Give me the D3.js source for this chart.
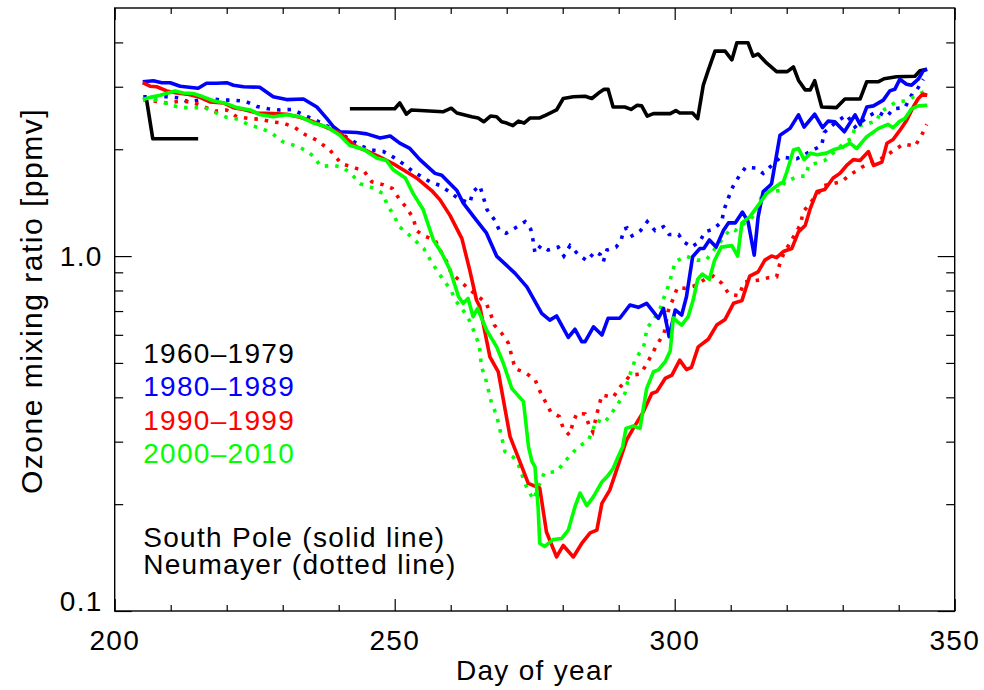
<!DOCTYPE html>
<html>
<head>
<meta charset="utf-8">
<script src="https://cdn.jsdelivr.net/npm/d3@7"></script>
<style>
  html, body { margin: 0; padding: 0; background: #fff; }
  svg { display: block; font-family: 'Liberation Sans', Arial, Helvetica, sans-serif; }
</style>
</head>
<body>
<div id="chart"></div>
<script>
// day of year, ozone mixing ratio [ppmv]; null breaks a line
const southPole1960 = [[205.7, 2.75], [206.8, 2.14], [214.9, 2.14], null,
  [242, 2.60], [250, 2.60], [250.9, 2.70], [252.1, 2.51], [253, 2.58], [258.6, 2.55], [260.1, 2.61], [261.1, 2.53],
  [263.75, 2.47], [264.9, 2.45], [265.9, 2.39], [267.1, 2.48], [268.2, 2.47], [269.1, 2.39], [270, 2.37], [271.1, 2.33],
  [272.1, 2.40], [273.1, 2.37], [274.2, 2.45], [275.9, 2.45], [277.1, 2.50], [278.9, 2.58], [280.1, 2.78], [281.9, 2.81],
  [284, 2.82], [285.2, 2.78], [286.4, 2.88], [287.4, 2.95], [288.1, 2.95], [289, 2.63], [291.1, 2.63], [292.2, 2.59],
  [293.3, 2.66], [294.1, 2.65], [295.1, 2.48], [296.2, 2.52], [299.2, 2.52], [300.2, 2.57], [300.9, 2.53], [303.2, 2.53],
  [304.1, 2.44], [305.1, 3.03], [306, 3.34], [307.2, 3.78], [309, 3.78], [310.2, 3.57], [311.1, 3.99], [313.1, 3.99],
  [314, 3.66], [314.9, 3.71], [316.4, 3.50], [318.2, 3.31], [320.1, 3.31], [321.2, 3.41], [322.1, 3.13], [323.3, 2.94],
  [324.2, 2.94], [325, 3.12], [326.25, 2.63], [328.9, 2.62], [330.4, 2.77], [333.1, 2.77], [334.3, 3.10], [336.4, 3.10],
  [337.4, 3.16], [339.6, 3.20], [342.9, 3.21], [343.8, 3.33], [345, 3.36]]

const southPole1980 = [[205, 3.10], [206.9, 3.12], [208.4, 3.08], [209.9, 3.08], [211.7, 3.01], [214.9, 2.97], [216.4, 3.07],
  [218.2, 3.07], [220, 3.08], [221.2, 3.03], [223, 3.00], [225.9, 2.99], [228.3, 2.81], [230.7, 2.76], [233.7, 2.77],
  [236.1, 2.63], [237.9, 2.44], [239, 2.32], [240.2, 2.24], [243.2, 2.23], [245, 2.21], [247.4, 2.15], [249.2, 2.18],
  [250.9, 2.08], [252.7, 2.01], [254.5, 1.87], [257.2, 1.71], [258.4, 1.69], [261.1, 1.53], [262.25, 1.41], [264.3, 1.28],
  [266.4, 1.16], [268.2, 1.00], [271.5, 0.894], [273.6, 0.819], [274.75, 0.760], [276.25, 0.690], [277.7, 0.660],
  [278.9, 0.678], [281, 0.590], [282.2, 0.622], [283.4, 0.574], [284, 0.574], [285.5, 0.632], [287, 0.599], [288.1, 0.668],
  [290.2, 0.668], [292, 0.728], [293.5, 0.717], [295, 0.736], [297.1, 0.668], [298, 0.712], [299, 0.593], [300.1, 0.705],
  [301.25, 0.682], [302.1, 0.768], [303.2, 0.996], [304.5, 1.05], [305.2, 1.05], [306.2, 1.11], [307.4, 1.06],
  [308.7, 1.18], [309.6, 1.24], [310.8, 1.24], [312.1, 1.33], [313.1, 1.25], [314.2, 1.006], [314.9, 1.29], [315.8, 1.52],
  [317, 1.58], [317.3, 1.60], [318.8, 2.19], [320.6, 2.29], [322.1, 2.50], [323.1, 2.31], [325, 2.51], [326.4, 2.30],
  [327.4, 2.40], [328.6, 2.39], [330.3, 2.24], [332.2, 2.50], [333.1, 2.35], [334.3, 2.63], [335.5, 2.65], [337.25, 2.75],
  [338.4, 2.92], [339.3, 2.95], [340.2, 3.15], [341.4, 3.05], [342.3, 3.03], [343.5, 3.15], [344.4, 3.33], [345.1, 3.36]]

const southPole1990 = [[205, 3.08], [206.3, 3.01], [207.5, 3.00], [209.3, 2.92], [211.1, 2.88], [212.9, 2.86], [215.2, 2.80],
  [217, 2.72], [219.4, 2.70], [221.2, 2.62], [223, 2.59], [225.4, 2.53], [228.3, 2.52], [230.7, 2.51], [233.1, 2.46],
  [235.5, 2.39], [237.9, 2.30], [240.2, 2.22], [243.2, 2.03], [245, 1.98], [247.4, 1.90], [249.75, 1.82], [251.5, 1.75],
  [253.9, 1.66], [256.6, 1.53], [258.1, 1.44], [259.9, 1.30], [262, 1.12], [263.4, 0.913], [264.6, 0.752], [265.2, 0.720],
  [267, 0.520], [268.5, 0.472], [270.6, 0.310], [272.7, 0.255], [273.85, 0.229], [275.9, 0.222], [277.1, 0.167],
  [278.9, 0.142], [280.1, 0.153], [281.9, 0.142], [283.4, 0.155], [284.9, 0.166], [286.1, 0.169], [287, 0.201],
  [288.4, 0.219], [289.6, 0.249], [291.4, 0.303], [292.6, 0.327], [294.4, 0.364], [295.9, 0.410], [296.8, 0.415],
  [298.3, 0.452], [299.5, 0.462], [300.9, 0.509], [302.1, 0.479], [303, 0.486], [304.2, 0.555], [306, 0.583],
  [307.5, 0.639], [309, 0.663], [310.5, 0.736], [312, 0.749], [313.4, 0.878], [314.9, 0.903], [316.1, 0.974], [317.3, 1.00],
  [318.2, 0.99], [319.4, 1.03], [320.9, 1.05], [322.1, 1.17], [323.3, 1.22], [324.2, 1.36], [325.4, 1.52], [326.8, 1.54],
  [328.3, 1.66], [329.5, 1.71], [330.7, 1.80], [331.9, 1.87], [333.1, 1.86], [334.6, 1.97], [335.5, 1.80], [337, 1.84],
  [337.9, 2.08], [339, 2.13], [340.2, 2.26], [341.4, 2.41], [342.6, 2.63], [343.5, 2.78], [344.3, 2.86], [345.1, 2.84]]

const southPole2000 = [[205, 2.76], [206.3, 2.80], [208.1, 2.84], [210.8, 2.92], [212.25, 2.88], [214, 2.87], [215.8, 2.81],
  [217.6, 2.74], [220, 2.69], [221.8, 2.62], [224.2, 2.58], [226, 2.50], [228.3, 2.47], [230.7, 2.50], [233.1, 2.47],
  [235.5, 2.37], [237.9, 2.31], [240.2, 2.19], [242, 2.05], [244.4, 2.00], [246.8, 1.89], [248.5, 1.86], [249.75, 1.75],
  [251.9, 1.66], [253.3, 1.50], [255.1, 1.35], [256.9, 1.11], [258.4, 1.02], [259.9, 0.913], [261.4, 0.768],
  [262.25, 0.736], [263.1, 0.760], [264, 0.675], [264.8, 0.712], [266.4, 0.619], [268.2, 0.555], [269.4, 0.499],
  [270.9, 0.424], [273, 0.389], [273.9, 0.290], [274.5, 0.264], [275.05, 0.255], [275.6, 0.197], [275.9, 0.155],
  [276.8, 0.152], [278.3, 0.159], [279.8, 0.160], [281, 0.169], [282.2, 0.197], [283.1, 0.215], [284.3, 0.198],
  [285.5, 0.210], [287, 0.231], [288.1, 0.241], [289, 0.252], [289.9, 0.272], [290.7, 0.290], [291.3, 0.327],
  [292.6, 0.332], [293.8, 0.327], [295, 0.424], [296.2, 0.472], [297.1, 0.478], [298.3, 0.504], [299.2, 0.540],
  [299.75, 0.670], [300.4, 0.655], [301.25, 0.639], [302.4, 0.675], [303.3, 0.752], [304.1, 0.86], [304.9, 0.89],
  [306.2, 0.86], [307.1, 0.97], [308.3, 1.06], [310.2, 1.07], [311.25, 1.00], [312, 1.24], [313.4, 1.29], [315.2, 1.41],
  [316.4, 1.50], [317.6, 1.55], [318.8, 1.60], [319.4, 1.62], [320, 1.72], [321.2, 1.99], [322.1, 2.01], [323.1, 1.87],
  [324.3, 1.95], [325.4, 1.93], [327.1, 1.95], [328.6, 2.00], [330.1, 2.03], [331.3, 2.08], [332.5, 2.01], [334.3, 2.17],
  [336.4, 2.29], [338.1, 2.35], [339, 2.30], [340.2, 2.40], [341.1, 2.44], [342.3, 2.60], [343.5, 2.65], [345.1, 2.66]]

const neumayer1980 = [[205.1, 2.81], [209.5, 2.81], [211.6, 2.79], [213.1, 2.72], [217, 2.78], [219.1, 2.75], [221.2, 2.75],
  [223.3, 2.73], [225.4, 2.64], [227.4, 2.60], [229.5, 2.58], [231.6, 2.59], [237, 2.37], [242.3, 2.12], [244.1, 2.04],
  [245.9, 1.99], [248, 1.97], [249.75, 1.90], [251.5, 1.82], [253.3, 1.73], [256.3, 1.62], [258.1, 1.58], [259.7, 1.52],
  [261.4, 1.45], [263.4, 1.41], [264, 1.52], [265.2, 1.58], [266.5, 1.35], [267.9, 1.26], [268.7, 1.18], [269.9, 1.16],
  [271.5, 1.20], [273.3, 1.25], [274.3, 1.19], [274.75, 1.10], [275.05, 1.02], [276.1, 1.07], [277.4, 1.04], [279.2, 1.06],
  [280.2, 1.00], [281.3, 1.07], [282.8, 1.01], [284.3, 0.97], [285.8, 1.03], [286.7, 1.01], [287.25, 0.964], [287.9, 1.04],
  [289.5, 1.06], [290.4, 1.10], [290.9, 1.19], [291.5, 1.20], [292.4, 1.14], [293.9, 1.18], [295.1, 1.25], [296.5, 1.18],
  [298, 1.21], [299, 1.15], [300.7, 1.15], [301.5, 1.10], [303, 1.06], [304.5, 1.10], [305.4, 1.17], [306.9, 1.19],
  [308.4, 1.25], [308.8, 1.35], [309.6, 1.46], [310.4, 1.57], [311.5, 1.68], [312.7, 1.78], [314.5, 1.77], [315.8, 1.71],
  [317.3, 1.80], [318.9, 1.90], [321.8, 1.88], [326.25, 2.05], [326.7, 2.23], [328.9, 2.39], [330.7, 2.50], [332.2, 2.31],
  [334.6, 2.48], [336.1, 2.55], [337.9, 2.47], [339, 2.60], [341.1, 2.62], [342.6, 2.90], [343.3, 2.95], [344.4, 3.15]]

const neumayer1990 = [[205.1, 2.76], [209.3, 2.70], [211.7, 2.73], [213.75, 2.72], [217.9, 2.56], [220, 2.58], [221.8, 2.47],
  [224.2, 2.44], [225.9, 2.43], [228, 2.39], [230.1, 2.37], [232.2, 2.30], [234, 2.20], [236.1, 2.12], [238.4, 1.99],
  [240.5, 1.82], [242.6, 1.78], [244.6, 1.73], [245.9, 1.62], [247.9, 1.59], [249.6, 1.55], [250.8, 1.45], [252.1, 1.37],
  [253.3, 1.28], [253.9, 1.18], [255.2, 1.14], [257.2, 1.11], [258.1, 1.04], [259.3, 0.963], [260.05, 0.897],
  [261.5, 0.856], [263.1, 0.811], [266.3, 0.739], [267.1, 0.690], [267.8, 0.639], [269.1, 0.606], [270.3, 0.568],
  [271.5, 0.482], [273.3, 0.469], [275.05, 0.449], [275.9, 0.417], [277.85, 0.364], [279.4, 0.353], [280.1, 0.327],
  [281.2, 0.313], [281.8, 0.337], [282.5, 0.360], [284, 0.359], [284.75, 0.332], [285.35, 0.320], [286.4, 0.375],
  [287, 0.406], [289, 0.400], [290.2, 0.427], [292.1, 0.462], [293.8, 0.465], [294.8, 0.49], [296.8, 0.561],
  [298.1, 0.606], [298.85, 0.701], [299.75, 0.76], [300.5, 0.816], [301.8, 0.811], [303.4, 0.823], [305.4, 0.86],
  [306.9, 0.878], [308.4, 0.838], [309.7, 0.781], [311.5, 0.773], [312.4, 0.846], [315.2, 0.856], [316.7, 0.869],
  [318.2, 0.874], [318.7, 0.943], [319.4, 1.01], [322.5, 1.23], [322.9, 1.33], [326.7, 1.58], [329.8, 1.62], [331, 1.68],
  [333.4, 1.78], [334.3, 1.81], [337.4, 1.90], [339, 1.98], [340.9, 2.07], [342.9, 2.04], [344.1, 2.19], [345, 2.35]]

const neumayer2000 = [[205.1, 2.75], [207.5, 2.75], [209.6, 2.68], [211.7, 2.62], [213.9, 2.62], [216, 2.62], [217.9, 2.54],
  [220, 2.46], [222.1, 2.43], [224, 2.34], [226.25, 2.29], [228.2, 2.21], [230, 2.10], [232.1, 2.05], [234, 1.99],
  [235.5, 1.91], [236.8, 1.79], [239.2, 1.80], [240.7, 1.78], [242.3, 1.70], [243.8, 1.60], [245.9, 1.56], [247.9, 1.50],
  [248.7, 1.39], [249.9, 1.30], [250.8, 1.21], [252.25, 1.16], [253.8, 1.10], [255.2, 1.05], [256.3, 0.979],
  [257.5, 0.913], [258.7, 0.856], [260.05, 0.802], [260.8, 0.752], [262.1, 0.708], [263.3, 0.660], [264.2, 0.612],
  [265.1, 0.561], [265.5, 0.488], [266.3, 0.447], [267.3, 0.385], [268.2, 0.356], [269.7, 0.281], [271.2, 0.271],
  [272.1, 0.258], [273.4, 0.226], [274.75, 0.206], [276.7, 0.245], [278.9, 0.247], [281.2, 0.273], [282.8, 0.290],
  [284.6, 0.303], [286.1, 0.345], [287.4, 0.338], [288.75, 0.361], [291.1, 0.410], [291.7, 0.449], [292.9, 0.509],
  [294.4, 0.555], [294.7, 0.574], [295, 0.626], [296.2, 0.660], [297.4, 0.712], [298.1, 0.765], [298.85, 0.823],
  [299.5, 0.89], [300.1, 0.964], [302, 1.0], [304, 0.974], [305.6, 0.974], [309.9, 1.19], [310.8, 1.18], [314.2, 1.30],
  [314.9, 1.39], [315.8, 1.51], [318.9, 1.53], [319.7, 1.62], [322.25, 1.68], [323.4, 1.68], [323.9, 1.80], [326.8, 1.86],
  [328.6, 1.97], [330.6, 2.11], [331.6, 2.14], [332.2, 2.31], [334.3, 2.36], [336.1, 2.40], [336.7, 2.55], [338.1, 2.62],
  [339.5, 2.72], [341.5, 2.74], [343.2, 2.84], [345, 2.93]]

const periods = ['1960\u20131979', '1980\u20131989', '1990\u20131999', '2000\u20132010']
const periodColors = ['#000000', '#0000ff', '#ff0000', '#00ff00']
const stationNotes = ['South Pole (solid line)', 'Neumayer (dotted line)']

const xMajor = [200, 250, 300, 350]
const xMinor = [210, 220, 230, 240, 260, 270, 280, 290, 310, 320, 330, 340]
const yMajor = [0.1, 1]
const yMinor = [0.2, 0.3, 0.4, 0.5, 0.6, 0.7, 0.8, 0.9, 2, 3, 4]
const yLabels = ['0.1', '1.0']

const width = 984
const height = 690
const margin = { top: 8, right: 29.3, bottom: 79, left: 114.7 }
const w = width - margin.left - margin.right
const h = height - margin.top - margin.bottom

const svg = d3.select('#chart').append('svg')
  .attr('width', width)
  .attr('height', height)

const g = svg.append('g')
  .attr('transform', 'translate(' + margin.left + ',' + margin.top + ')')

const x = d3.scaleLinear().domain([200, 350]).range([0, w])
const y = d3.scaleLog().domain([0.1, 5]).range([h, 0])

const line = d3.line()
  .defined(d => d !== null)
  .x(d => x(d[0]))
  .y(d => y(d[1]))

// axes: ticks point inward on all four sides
function tickAxis (axisFn, scale, values, size, transform) {
  const a = g.append('g')
    .attr('class', 'axis')
    .call(axisFn(scale).tickValues(values).tickSize(-size).tickFormat(''))
  if (transform) a.attr('transform', transform)
  a.select('.domain').remove()
  a.selectAll('line').attr('stroke', '#000').attr('stroke-width', 1.2)
  return a
}

tickAxis(d3.axisBottom, x, xMajor, 12, 'translate(0,' + h + ')')
tickAxis(d3.axisBottom, x, xMinor, 6, 'translate(0,' + h + ')')
tickAxis(d3.axisTop, x, xMajor, 12)
tickAxis(d3.axisTop, x, xMinor, 6)
tickAxis(d3.axisLeft, y, yMajor, 17)
tickAxis(d3.axisLeft, y, yMinor, 8.5)
tickAxis(d3.axisRight, y, yMajor, 17, 'translate(' + w + ',0)')
tickAxis(d3.axisRight, y, yMinor, 8.5, 'translate(' + w + ',0)')

g.append('rect')
  .attr('width', w)
  .attr('height', h)
  .attr('fill', 'none')
  .attr('stroke', '#000')
  .attr('stroke-width', 1.4)

const labelFont = { size: '28px', spacing: '1.3px' }

g.selectAll('.xlabel')
  .data(xMajor)
  .join('text')
  .attr('x', d => x(d))
  .attr('y', h + 39)
  .attr('text-anchor', 'middle')
  .style('font-size', labelFont.size)
  .style('letter-spacing', labelFont.spacing)
  .text(d => d)

g.selectAll('.ylabel')
  .data(yMajor)
  .join('text')
  .attr('x', -12)
  .attr('y', (d, i) => i === 0 ? y(d) : y(d) + 10)
  .attr('text-anchor', 'end')
  .style('font-size', labelFont.size)
  .style('letter-spacing', labelFont.spacing)
  .text((d, i) => yLabels[i])

g.append('text')
  .attr('x', w / 2)
  .attr('y', h + 69)
  .attr('text-anchor', 'middle')
  .style('font-size', labelFont.size)
  .style('letter-spacing', labelFont.spacing)
  .text('Day of year')

svg.append('text')
  .attr('transform', 'translate(42,301) rotate(-90)')
  .attr('text-anchor', 'middle')
  .style('font-size', '30px')
  .style('letter-spacing', '1.5px')
  .text('Ozone mixing ratio [ppmv]')

// dotted (Neumayer) under solid (South Pole)
const dotted = [null, neumayer1980, neumayer1990, neumayer2000]
const solid = [southPole1960, southPole1980, southPole1990, southPole2000]

dotted.forEach((series, i) => {
  if (!series) return
  g.append('path')
    .datum(series)
    .attr('d', line)
    .attr('fill', 'none')
    .attr('stroke', periodColors[i])
    .attr('stroke-width', 3.6)
    .attr('stroke-dasharray', '3.5,7')
})

solid.forEach((series, i) => {
  g.append('path')
    .datum(series)
    .attr('d', line)
    .attr('fill', 'none')
    .attr('stroke', periodColors[i])
    .attr('stroke-width', 3.6)
    .attr('stroke-linejoin', 'round')
})

g.selectAll('.period')
  .data(periods)
  .join('text')
  .attr('x', 28.5)
  .attr('y', (d, i) => 354.7 + i * 33.5)
  .attr('fill', (d, i) => periodColors[i])
  .style('font-size', labelFont.size)
  .style('letter-spacing', labelFont.spacing)
  .text(d => d)

g.selectAll('.note')
  .data(stationNotes)
  .join('text')
  .attr('x', 28.5)
  .attr('y', (d, i) => 538.7 + i * 27.3)
  .style('font-size', labelFont.size)
  .style('letter-spacing', labelFont.spacing)
  .text(d => d)
</script>
</body>
</html>
